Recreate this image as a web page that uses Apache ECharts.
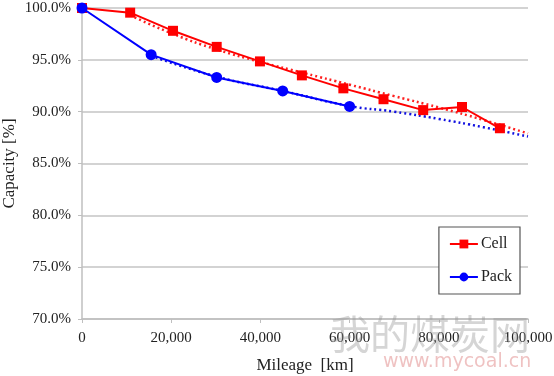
<!DOCTYPE html>
<html>
<head>
<meta charset="utf-8">
<script src="https://cdn.jsdelivr.net/npm/echarts@6/dist/echarts.min.js"></script>
<style>
	html, body { margin: 0; padding: 0; background: #fff; }
	#chart { width: 554px; height: 376px; }
</style>
</head>
<body>
<div id="chart"></div>
<script>
// 数据
var cellMileage = [0, 10800, 20400, 30200, 39900, 49300, 58600, 67600, 76500, 85200, 93700];
var cellCapacity = [100.0, 99.55, 97.8, 96.25, 94.85, 93.5, 92.25, 91.2, 90.15, 90.45, 88.4];
var packMileage = [0, 15500, 30200, 45000, 60000];
var packCapacity = [100.0, 95.5, 93.3, 92.0, 90.5];
// 趋势线（点线）
var cellTrendMileage = [10800, 20400, 30200, 40000, 50000, 60000, 70000, 80000, 90000, 100000];
var cellTrendCapacity = [99.3, 97.5, 96.0, 94.8, 93.7, 92.6, 91.5, 90.4, 89.2, 87.9];
var packTrendMileage = [15500, 30000, 45000, 60000, 70000, 80000, 90000, 100000];
var packTrendCapacity = [95.4, 93.4, 92.0, 90.55, 90.0, 89.3, 88.5, 87.6];
var yTicks = [70, 75, 80, 85, 90, 95, 100];

function pairs(xs, ys) {
	var out = [];
	for (var i = 0; i < xs.length; i++) {
		out.push([xs[i], ys[i]]);
	}
	return out;
}

var font = 'Liberation Serif';
var myChart = echarts.init(document.getElementById('chart'));
var option = {
	backgroundColor: '#fff',
	animation: false,
	textStyle: { fontFamily: font },
	grid: { left: 82, right: 26, top: 8, bottom: 57, containLabel: false, outerBoundsMode: 'none' },
	xAxis: {
		type: 'value',
		min: 0,
		max: 100000,
		interval: 20000,
		name: 'Mileage  [km]',
		nameLocation: 'middle',
		nameGap: 38,
		nameMoveOverlap: false,
		nameTextStyle: { fontFamily: font, fontSize: 17, color: '#222' },
		axisLine: { show: true, lineStyle: { color: '#bfbfbf', width: 1.5 } },
		axisTick: { show: true, length: 4, lineStyle: { color: '#bfbfbf' } },
		splitLine: { show: false },
		axisLabel: {
			fontFamily: font, fontSize: 15, color: '#222', margin: 12,
			formatter: function(v) { return v.toLocaleString('en-US'); }
		}
	},
	yAxis: {
		type: 'value',
		min: yTicks[0],
		max: yTicks[yTicks.length - 1],
		interval: 5,
		name: 'Capacity [%]',
		nameLocation: 'middle',
		nameGap: 64,
		nameMoveOverlap: false,
		nameTextStyle: { fontFamily: font, fontSize: 17, color: '#222' },
		axisLine: { show: true, lineStyle: { color: '#bfbfbf', width: 1.5 } },
		axisTick: { show: true, length: 4, lineStyle: { color: '#bfbfbf' } },
		splitLine: { show: true, lineStyle: { color: '#c4c4c4', width: 1.5 } },
		axisLabel: {
			fontFamily: font, fontSize: 15, color: '#222', margin: 11,
			formatter: function(v) { return v.toFixed(1) + '%'; }
		}
	},
	legend: {
		orient: 'vertical',
		right: 34,
		top: 227,
		width: 82,
		padding: [9, 8, 9, 10],
		itemGap: 17,
		itemWidth: 28,
		itemHeight: 11,
		borderColor: '#555',
		borderWidth: 1.2,
		backgroundColor: '#fff',
		textStyle: { fontFamily: font, fontSize: 16, color: '#222', padding: [0, 0, 0, -2] },
		data: ['Cell', 'Pack']
	},
	series: [{
		name: 'Cell trend',
		type: 'line',
		data: pairs(cellTrendMileage, cellTrendCapacity),
		smooth: true,
		showSymbol: false,
		lineStyle: { color: '#ff2020', width: 2.5, type: [2, 3] },
		z: 2
	}, {
		name: 'Pack trend',
		type: 'line',
		data: pairs(packTrendMileage, packTrendCapacity),
		smooth: true,
		showSymbol: false,
		lineStyle: { color: '#1010e0', width: 2.5, type: [2, 3] },
		z: 2
	}, {
		name: 'Cell',
		type: 'line',
		data: pairs(cellMileage, cellCapacity),
		symbol: 'rect',
		symbolSize: 10,
		itemStyle: { color: '#ff0000' },
		lineStyle: { color: '#ff0000', width: 2 },
		z: 3
	}, {
		name: 'Pack',
		type: 'line',
		data: pairs(packMileage, packCapacity),
		symbol: 'circle',
		symbolSize: 11,
		itemStyle: { color: '#0000ff' },
		lineStyle: { color: '#0000ff', width: 2 },
		z: 4
	}],
	graphic: [{
		type: 'text',
		left: 330,
		top: 314,
		silent: true,
		z: 10,
		style: { text: '我的煤炭网', font: '40px "Noto Sans CJK SC"', fill: 'rgba(150,150,150,0.4)' }
	}, {
		type: 'text',
		left: 383,
		top: 353,
		silent: true,
		z: 10,
		style: { text: 'www.mycoal.cn', font: '19px "DejaVu Sans"', fill: 'rgba(220,120,120,0.45)' }
	}]
};
myChart.setOption(option);
</script>
</body>
</html>
